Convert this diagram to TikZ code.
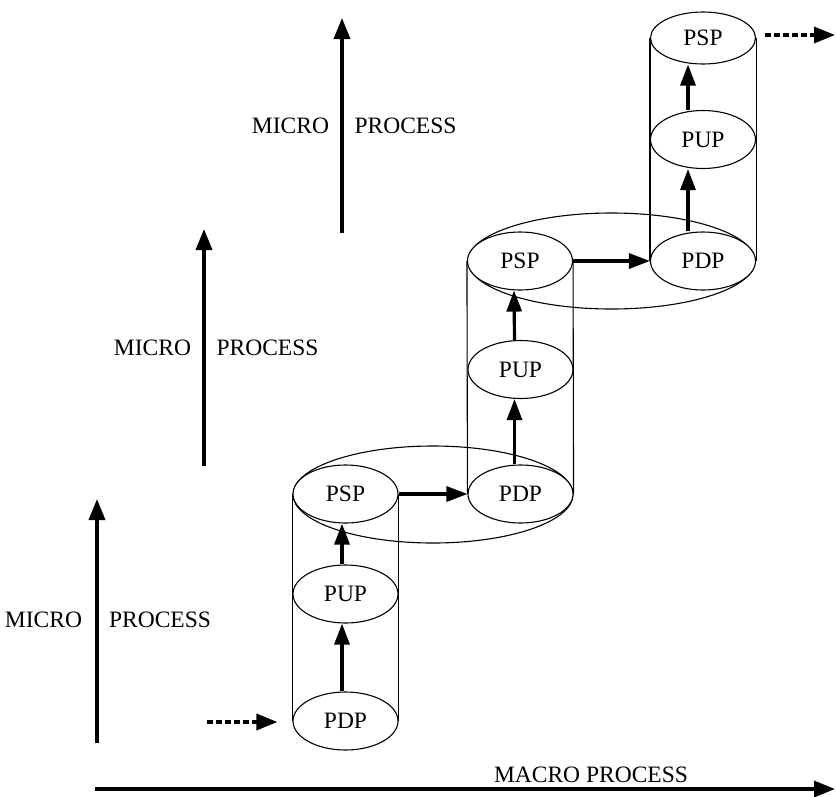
\documentclass[tikz,border=0pt]{standalone}
\usepackage{fontspec}
\setmainfont{Liberation Serif}
\usetikzlibrary{arrows.meta,shapes.geometric}
\begin{document}
\begin{tikzpicture}[x=1pt,y=-1pt,
 ell/.style={draw, ellipse, fill=white, line width=1.1pt, minimum width=105pt, minimum height=58pt, inner sep=0pt, font=\fontsize{23.5}{25}\selectfont},
 grp/.style={draw, ellipse, line width=1.1pt, inner sep=0pt},
 side/.style={line width=1.1pt},
 bigarrow/.style={line width=3.5pt, -{Triangle[length=21pt,width=16pt]}},
 flow/.style={line width=3.2pt, -{Triangle[length=21pt,width=15pt]}},
 dasharrow/.style={line width=3.5pt, dash pattern=on 6pt off 3pt, -{Triangle[length=21pt,width=16pt]}},
 lbl/.style={font=\fontsize{23.5}{25}\selectfont, inner sep=0pt}]
\useasboundingbox (0,0) rectangle (836,796);

% group ellipses
\node[grp, minimum width=280pt, minimum height=97pt] (grp1) at (433,494.5) {};
\node[grp, minimum width=287pt, minimum height=96pt] (grp2) at (611.5,261) {};

% process ellipses
\node[ell] (pdp1) at (345.5,721) {PDP};
\node[ell] (pup1) at (345.5,594) {PUP};
\node[ell] (psp1) at (345.5,494) {PSP};
\node[ell] (pdp2) at (520.5,494) {PDP};
\node[ell] (pup2) at (520.5,369.5) {PUP};
\node[ell] (psp2) at (520,261) {PSP};
\node[ell] (pdp3) at (703,261) {PDP};
\node[ell] (pup3) at (703,139.5) {PUP};
\node[ell, minimum height=52pt] (psp3) at (703,38) {PSP};

% cylinder sides
\draw[side] (psp1.west) -- (pdp1.west);
\draw[side] (psp1.east) -- (pdp1.east);
\draw[side] (psp2.west) -- (pdp2.west);
\draw[side] (psp2.east) -- (pdp2.east);
\draw[side] (psp3.west) -- (pdp3.west);
\draw[side] (psp3.east) -- (pdp3.east);

% flows inside cylinders
\draw[flow] ([xshift=-3.5pt]pdp1.north) -- ([xshift=-3.5pt]pup1.south);
\draw[flow] ([xshift=-3.5pt]pup1.north) -- ([xshift=-3.5pt]psp1.south);
\draw[flow] ([xshift=-6pt]pdp2.north) -- ([xshift=-6pt]pup2.south);
\draw[flow] ([xshift=-6pt]pup2.north) -- ([xshift=-6pt]psp2.south);
\draw[flow] ([xshift=-15pt]pdp3.north) -- ([xshift=-15pt]pup3.south);
\draw[flow] ([xshift=-15pt]pup3.north) -- ([xshift=-15pt]psp3.south);

% horizontal transitions
\draw[flow] (psp1.east) -- (pdp2.west);
\draw[flow] (psp2.east) -- (pdp3.west);

% dashed in/out
\coordinate (din) at (207,722);
\draw[dasharrow, shorten >=15pt] (din) -- (din -| pdp1.west);
\coordinate (dout1) at (765,35);
\coordinate (dout2) at (835,35);
\draw[dasharrow] (dout1) -- (dout2);

% micro process axes
\coordinate (m1a) at (97,743);  \coordinate (m1b) at (97,499);
\coordinate (m2a) at (204,466); \coordinate (m2b) at (204,229);
\coordinate (m3a) at (342,233); \coordinate (m3b) at (342,18);
\draw[bigarrow] (m1a) -- (m1b);
\draw[bigarrow] (m2a) -- (m2b);
\draw[bigarrow] (m3a) -- (m3b);
\node[lbl] (mi1) at (43.5,620) {MICRO};
\node[lbl] (pr1) at (160,620) {PROCESS};
\node[lbl] (mi2) at (152.5,348) {MICRO};
\node[lbl] (pr2) at (267.5,348) {PROCESS};
\node[lbl] (mi3) at (290.5,126) {MICRO};
\node[lbl] (pr3) at (405.5,126) {PROCESS};

% macro process axis
\coordinate (ma) at (95,789);
\coordinate (mb) at (835,789);
\draw[bigarrow] (ma) -- (mb);
\node[lbl] (mac) at (591,775) {MACRO PROCESS};
\end{tikzpicture}
\end{document}
